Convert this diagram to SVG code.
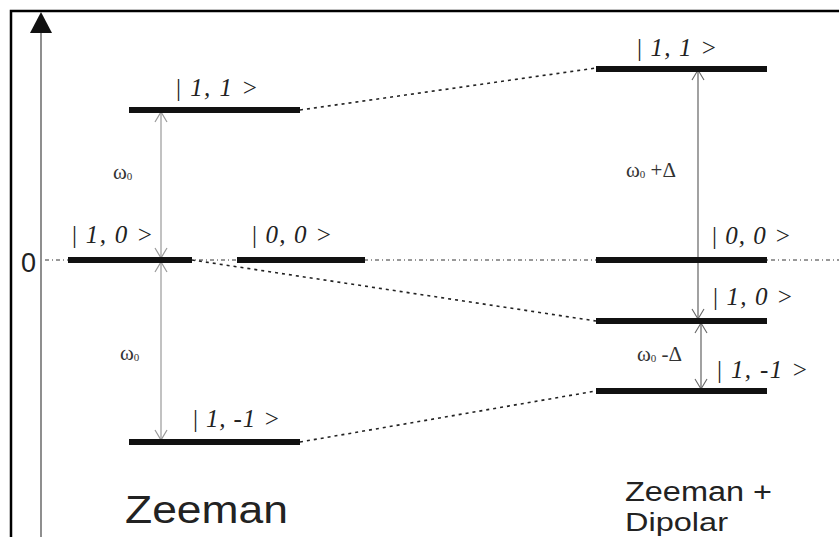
<svg xmlns="http://www.w3.org/2000/svg" width="839" height="537" viewBox="0 0 839 537">
<defs>
<style>
.bar{fill:#111}
.lbl{font-family:"Liberation Serif","Times New Roman",serif;font-style:italic;font-size:25px;fill:#222}
.up{font-style:normal}
.om{font-family:"Liberation Serif","Times New Roman",serif;font-size:21px;fill:#333}
.sub{font-size:11px}
.big{font-family:"Liberation Sans",Arial,sans-serif;fill:#222}
.dot{stroke:#222;stroke-width:1.6;stroke-dasharray:3 4;fill:none}
.zero{stroke:#333;stroke-width:1;stroke-dasharray:4 3 1 3;fill:none}
.arL{stroke:#999;stroke-width:1.2;fill:none;marker-start:url(#hL);marker-end:url(#hL)}
.arR{stroke:#555;stroke-width:1.1;fill:none;marker-start:url(#hR);marker-end:url(#hR)}
</style>
<marker id="hL" markerUnits="userSpaceOnUse" markerWidth="20" markerHeight="20" refX="0" refY="0" viewBox="-10 -10 20 20" orient="auto-start-reverse" overflow="visible">
<path d="M-10,-6 L0,0 L-10,6" fill="none" stroke="#999" stroke-width="1.2"/>
</marker>
<marker id="hR" markerUnits="userSpaceOnUse" markerWidth="20" markerHeight="20" refX="0" refY="0" viewBox="-10 -10 20 20" orient="auto-start-reverse" overflow="visible">
<path d="M-10,-6 L0,0 L-10,6" fill="none" stroke="#666" stroke-width="1.1"/>
</marker>
</defs>
<rect width="839" height="537" fill="#fff"/>
<g id="frame">
<path d="M11,537 V11 H839" fill="none" stroke="#000" stroke-width="2.5"/>
<line x1="41" y1="30" x2="41" y2="537" stroke="#444" stroke-width="1.2"/>
<path d="M41,12 L52,33 L30,33 Z" fill="#111"/>
<text x="21" y="272" class="big" font-size="27">0</text>
</g>
<g id="connectors">
<line class="zero" x1="45" y1="260" x2="839" y2="260"/>
<line class="dot" x1="300" y1="110" x2="596" y2="68"/>
<line class="dot" x1="192" y1="260" x2="596" y2="321"/>
<line class="dot" x1="300" y1="442" x2="596" y2="391"/>
<line class="arL" x1="161" y1="112" x2="161" y2="258"/>
<line class="arL" x1="161" y1="262" x2="161" y2="440"/>
<line class="arR" x1="698" y1="70" x2="698" y2="319"/>
<line class="arR" x1="701" y1="323" x2="701" y2="389"/>
</g>
<g id="z11"><rect class="bar" x="129" y="107" width="171" height="6"/><text class="lbl" x="176" y="96" textLength="82"><tspan class="up">|</tspan> 1, 1 &gt;</text></g>
<g id="z10"><rect class="bar" x="68" y="257" width="124" height="6"/><text class="lbl" x="72" y="243" textLength="81"><tspan class="up">|</tspan> 1, 0 &gt;</text></g>
<g id="z00"><rect class="bar" x="237" y="257" width="128" height="6"/><text class="lbl" x="252" y="243" textLength="80"><tspan class="up">|</tspan> 0, 0 &gt;</text></g>
<g id="z1m1"><rect class="bar" x="129" y="439" width="171" height="6"/><text class="lbl" x="193" y="427" textLength="87"><tspan class="up">|</tspan> 1, -1 &gt;</text></g>
<g id="d11"><rect class="bar" x="596" y="66" width="171" height="6"/><text class="lbl" x="637" y="56" textLength="80"><tspan class="up">|</tspan> 1, 1 &gt;</text></g>
<g id="d00"><rect class="bar" x="596" y="257" width="171" height="6"/><text class="lbl" x="712" y="244" textLength="79"><tspan class="up">|</tspan> 0, 0 &gt;</text></g>
<g id="d10"><rect class="bar" x="596" y="318" width="171" height="6"/><text class="lbl" x="713" y="305" textLength="80"><tspan class="up">|</tspan> 1, 0 &gt;</text></g>
<g id="d1m1"><rect class="bar" x="596" y="388" width="171" height="6"/><text class="lbl" x="717" y="378" textLength="91"><tspan class="up">|</tspan> 1, -1 &gt;</text></g>
<g id="labels">
<text class="om" x="113" y="179">ω<tspan class="sub" dy="1">0</tspan></text>
<text class="om" x="120" y="360">ω<tspan class="sub" dy="1">0</tspan></text>
<text class="om" x="626" y="177">ω<tspan class="sub" dy="1">0</tspan><tspan dy="-1"> +Δ</tspan></text>
<text class="om" x="637" y="361">ω<tspan class="sub" dy="1">0</tspan><tspan dy="-1"> -Δ</tspan></text>
<text class="big" x="125" y="523" font-size="38" textLength="163" lengthAdjust="spacingAndGlyphs">Zeeman</text>
<text class="big" x="625" y="501" font-size="27" textLength="147" lengthAdjust="spacingAndGlyphs">Zeeman +</text>
<text class="big" x="625" y="531" font-size="26" textLength="103" lengthAdjust="spacingAndGlyphs">Dipolar</text>
</g>
</svg>
